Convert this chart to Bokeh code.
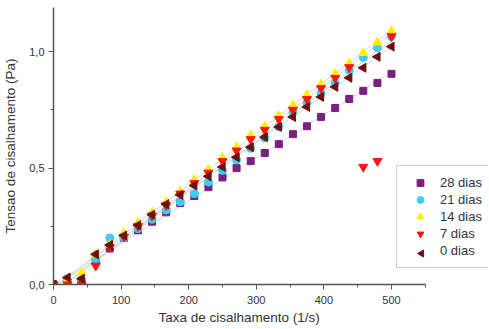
import numpy as np
from bokeh.plotting import figure
from bokeh.models import FixedTicker, Range1d, Legend, LegendItem, Title, ColumnDataSource
from bokeh.embed import file_html
from bokeh.resources import INLINE

# ---- data ----
shear_rate = [0, 20.8, 41.7, 62.5, 83.3, 104.2, 125, 145.8, 166.7, 187.5, 208.3,
              229.2, 250, 270.8, 291.7, 312.5, 333.3, 354.2, 375, 395.8, 416.7,
              437.5, 458.3, 479.2, 500]

dias28 = [0.0, 0.01, 0.01, 0.10, 0.155, 0.20, 0.233, 0.27, 0.31, 0.35, 0.38,
          0.418, 0.46, 0.50, 0.53, 0.565, 0.603, 0.646, 0.68, 0.72, 0.758,
          0.797, 0.832, 0.866, 0.905]
dias21 = [0.0, 0.005, 0.02, 0.11, 0.20, 0.20, 0.24, 0.28, 0.32, 0.355, 0.39,
          0.44, 0.49, 0.535, 0.585, 0.63, 0.677, 0.74, 0.78, 0.82, 0.865,
          0.92, 0.975, 1.017, 1.065]
dias14 = [0.0, 0.02, 0.05, 0.13, 0.17, 0.22, 0.265, 0.31, 0.355, 0.40, 0.45,
          0.495, 0.545, 0.59, 0.64, 0.68, 0.725, 0.77, 0.815, 0.86, 0.905,
          0.95, 0.995, 1.04, 1.09]
dias7 = [0.0, 0.0, 0.0, 0.08, 0.16, 0.205, 0.25, 0.295, 0.34, 0.39, 0.435,
         0.48, 0.53, 0.575, 0.624, 0.664, 0.71, 0.75, 0.796, 0.843, 0.887,
         0.933, 0.505, 0.53, 1.066]
dias0 = [0.0, 0.03, 0.025, 0.13, 0.17, 0.21, 0.255, 0.30, 0.345, 0.385, 0.425,
         0.465, 0.505, 0.547, 0.59, 0.633, 0.677, 0.72, 0.763, 0.806, 0.849,
         0.888, 0.931, 0.978, 1.022]

# points of "7 dias" left out of its linear fit (outliers)
dias7_outliers = [22, 23]

labels = ["28 dias", "21 dias", "14 dias", "7 dias", "0 dias"]
x_ticks = [0, 100, 200, 300, 400, 500]
x_minor = [50, 150, 250, 350, 450, 550]
x_axis_end = 550
y_ticks = [0.0, 0.5, 1.0]
y_minor = [0.25, 0.75]
y_tick_labels = ["0,0", "0,5", "1,0"]

series = [dias28, dias21, dias14, dias7, dias0]
markers = ["square", "circle", "triangle", "inverted_triangle", "triangle"]
colors = ["#7b1f80", "#3ccdf0", "#ffee00", "#ff1414", "#6e0f12"]
angles = [0, 0, 0, 0, np.pi / 2]
sizes = [7, 8, 9, 9, 9]

FONT = "Liberation Sans"

p = figure(frame_width=435, frame_height=277, output_backend="svg",
           toolbar_location=None,
           x_range=Range1d(0, 643.5), y_range=Range1d(0, 1.19),
           min_border_left=46, min_border_right=0, min_border_top=7,
           min_border_bottom=44)
p.grid.visible = False
p.outline_line_color = None
p.background_fill_color = "white"
p.border_fill_color = "white"

# linear fit lines (from the data)
xs = np.array(shear_rate)
for i, ys in enumerate(series):
    ys = np.array(ys)
    mask = np.ones(len(xs), dtype=bool)
    if i == 3:
        mask[dias7_outliers] = False
    k, b = np.polyfit(xs[mask], ys[mask], 1)
    fx = [xs[0], xs[-1]]
    p.line(fx, [k * fx[0] + b, k * fx[1] + b], line_color="#d0d0d0",
           line_width=1, line_alpha=0.9)

items = []
for ys, mk, c, lab, ang, sz in zip(series, markers, colors, labels, angles, sizes):
    r = p.scatter(shear_rate, ys, marker=mk, size=sz, fill_color=c,
                  line_color=c, angle=ang)
    if ang != 0:
        # legend glyphs are never rotated by Bokeh: use a blank key and draw
        # the rotated key marker under the (transparent) legend box
        blank = p.scatter([], [], marker=mk, fill_alpha=0, line_alpha=0)
        items.append(LegendItem(label=lab, renderers=[blank]))
        key_src = ColumnDataSource(dict(x=[544.5], y=[0.133]))
        p.scatter("x", "y", source=key_src, marker=mk, size=7, fill_color=c,
                  line_color=c, angle=ang)
    else:
        items.append(LegendItem(label=lab, renderers=[r]))

legend = Legend(items=items, location=(343, 16), padding=8, spacing=0,
                glyph_width=30, glyph_height=17, label_height=17,
                label_standoff=5, label_text_font=FONT,
                label_text_font_size="13px", label_text_color="#333333",
                border_line_color="#999999", border_line_width=1,
                background_fill_alpha=0.0)
p.add_layout(legend, "center")

for ax in (p.xaxis[0], p.yaxis[0]):
    ax.axis_line_color = "#555555"
    ax.axis_line_width = 1.5
    ax.major_tick_line_color = "#555555"
    ax.minor_tick_line_color = "#555555"
    ax.major_tick_in = 0
    ax.major_tick_out = 5
    ax.minor_tick_in = 0
    ax.minor_tick_out = 3
    ax.major_label_text_font = FONT
    ax.major_label_text_font_size = "11px"
    ax.major_label_text_color = "#333333"
    ax.axis_label_text_font = FONT
    ax.axis_label_text_font_size = "13.5px"
    ax.axis_label_text_font_style = "normal"
    ax.axis_label_text_color = "#333333"

p.xaxis.bounds = (0, x_axis_end)
p.xaxis.ticker = FixedTicker(ticks=x_ticks, minor_ticks=x_minor)
p.yaxis.ticker = FixedTicker(ticks=y_ticks, minor_ticks=y_minor)
p.yaxis.major_label_overrides = {t: s for t, s in zip(y_ticks, y_tick_labels)}
p.yaxis.axis_label = "Tensao de cisalhamento (Pa)"
p.xaxis.major_label_standoff = 6
p.yaxis.major_label_standoff = 4
p.yaxis.axis_label_standoff = 8

xlabel = Title(text="Taxa de cisalhamento (1/s)", align="left", offset=105,
               text_font=FONT, text_font_size="13.5px", text_font_style="normal",
               text_color="#333333", standoff=2)
p.add_layout(xlabel, "below")

open("out.html", "w").write(file_html(p, INLINE))
